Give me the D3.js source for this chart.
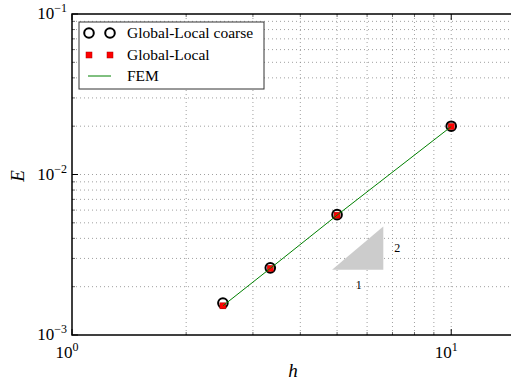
<!DOCTYPE html>
<html>
<head>
<meta charset="utf-8">
<script src="https://cdn.jsdelivr.net/npm/d3@7"></script>
<style>
  body { margin: 0; background: #fff; }
  text { font-family: "Liberation Serif", "DejaVu Serif", serif; }
</style>
</head>
<body>
<div id="chart"></div>
<script>
// data
const hValues = [2.5, 10 / 3, 5, 10];
const coarseE = [0.00158, 0.00262, 0.00562, 0.0200];
const fineE = [0.00152, 0.00260, 0.00558, 0.0199];
const femE = [0.00152, 0.00260, 0.00558, 0.0199];
const seriesNames = ["Global-Local coarse", "Global-Local", "FEM"];
const xTicks = [1, 10];
const yTicks = [0.001, 0.01, 0.1];
// slope triangle: start h, end h, base E, slope
const triangle = [4.85, 6.62, 0.00255, 2];

const width = 511, height = 384;
const padL = 72, padT = 14, padB = 335, padR = 518;

const svg = d3.select("#chart").append("svg")
	.attr("width", width)
	.attr("height", height);

const x = d3.scaleLog().domain([1, 15]).range([padL, padR]);
const y = d3.scaleLog().domain([0.001, 0.1]).range([padB, padT]);

// minor positions
let xMinor = [];
for (let d = 1; d <= 10; d *= 10)
	for (let k = 1; k < 10; k++) if (k * d <= 15) xMinor.push(k * d);
let yMinor = [];
for (let d = 0.001; d < 0.1; d *= 10)
	for (let k = 1; k < 10; k++) yMinor.push(k * d);

// grid
const grid = svg.append("g").attr("stroke", "#888").attr("stroke-width", 0.8)
	.attr("stroke-dasharray", "1,3");
grid.selectAll(".gx").data(xMinor.filter(v => v > 1))
	.join("line")
	.attr("x1", d => x(d)).attr("x2", d => x(d))
	.attr("y1", padT).attr("y2", padB);
grid.selectAll(".gy").data(yMinor.filter(v => v > 0.0011))
	.join("line")
	.attr("y1", d => y(d)).attr("y2", d => y(d))
	.attr("x1", padL).attr("x2", padR);

// slope triangle
const [tx0, tx1, ty0, ts] = triangle;
const ty1 = ty0 * Math.pow(tx1 / tx0, ts);
svg.append("path")
	.attr("d", d3.line()([[x(tx0), y(ty0)], [x(tx1), y(ty0)], [x(tx1), y(ty1)]]) + "Z")
	.attr("fill", "#cccccc");
svg.append("text").text("1")
	.attr("x", (x(tx0) + x(tx1)) / 2 + 1).attr("y", y(ty0) + 19)
	.attr("font-size", 12).attr("text-anchor", "middle").attr("fill", "#000");
svg.append("text").text(ts)
	.attr("x", x(tx1) + 14).attr("y", (y(ty0) + y(ty1)) / 2 + 4)
	.attr("font-size", 12).attr("text-anchor", "middle").attr("fill", "#000");

const lineGen = d3.line().x(d => x(d[0])).y(d => y(d[1]));

// coarse circles
svg.selectAll(".coarse").data(hValues.map((h, i) => [h, coarseE[i]]))
	.join("circle")
	.attr("cx", d => x(d[0])).attr("cy", d => y(d[1]))
	.attr("r", 4.8)
	.attr("fill", "none").attr("stroke", "#000").attr("stroke-width", 2);

// fine squares
svg.selectAll(".fine").data(hValues.map((h, i) => [h, fineE[i]]))
	.join("rect")
	.attr("x", d => x(d[0]) - 3).attr("y", d => y(d[1]) - 3)
	.attr("width", 6).attr("height", 6)
	.attr("fill", "#ff0000").attr("stroke", "#aa0000").attr("stroke-width", 0.5);

// FEM line on top
svg.append("path")
	.datum(hValues.map((h, i) => [h, femE[i]]))
	.attr("d", lineGen)
	.attr("fill", "none").attr("stroke", "#008000").attr("stroke-width", 1);

// frame
svg.append("rect")
	.attr("x", padL).attr("y", padT)
	.attr("width", padR - padL).attr("height", padB - padT)
	.attr("fill", "none").attr("stroke", "#000").attr("stroke-width", 1.5);

// inward ticks
const ticks = svg.append("g").attr("stroke", "#000");
xMinor.forEach(v => {
	const major = xTicks.includes(v);
	const len = major ? 6 : 3;
	ticks.append("line").attr("x1", x(v)).attr("x2", x(v))
		.attr("y1", padB).attr("y2", padB - len).attr("stroke-width", major ? 1 : 0.6);
	ticks.append("line").attr("x1", x(v)).attr("x2", x(v))
		.attr("y1", padT).attr("y2", padT + len).attr("stroke-width", major ? 1 : 0.6);
});
yMinor.concat([0.1]).forEach(v => {
	const major = yTicks.some(t => Math.abs(t - v) / t < 1e-6);
	const len = major ? 6 : 3;
	ticks.append("line").attr("y1", y(v)).attr("y2", y(v))
		.attr("x1", padL).attr("x2", padL + len).attr("stroke-width", major ? 1 : 0.6);
});

// tick labels
function powLabel(sel, exp) {
	sel.append("tspan").text("10");
	sel.append("tspan").text(exp).attr("dy", -7).attr("font-size", 12);
}
xTicks.forEach(v => {
	const t = svg.append("text").attr("x", x(v) - 5).attr("y", 358)
		.attr("font-size", 17).attr("text-anchor", "middle");
	powLabel(t, String(Math.round(Math.log10(v))));
});
yTicks.forEach(v => {
	const t = svg.append("text").attr("x", 67).attr("y", y(v) + 5)
		.attr("font-size", 17).attr("text-anchor", "end");
	powLabel(t, "\u2212" + Math.round(-Math.log10(v)));
});

// axis labels
svg.append("text").text("h").attr("x", 293).attr("y", 377)
	.attr("font-size", 19).attr("font-style", "italic").attr("text-anchor", "middle");
svg.append("text").text("E").attr("x", 0).attr("y", 0)
	.attr("transform", "translate(24,176) rotate(-90)")
	.attr("font-size", 19).attr("font-style", "italic").attr("text-anchor", "middle");

// legend
const lg = svg.append("g");
lg.append("rect").attr("x", 79).attr("y", 22).attr("width", 185).attr("height", 67)
	.attr("fill", "#fff").attr("stroke", "#333").attr("stroke-width", 1);
const rowsY = [33, 55, 76];
[89, 110].forEach(cx => {
	lg.append("circle").attr("cx", cx).attr("cy", rowsY[0]).attr("r", 4.8)
		.attr("fill", "none").attr("stroke", "#000").attr("stroke-width", 2);
	lg.append("rect").attr("x", cx - 3).attr("y", rowsY[1] - 3).attr("width", 6).attr("height", 6)
		.attr("fill", "#ff0000").attr("stroke", "#aa0000").attr("stroke-width", 0.5);
});
lg.append("line").attr("x1", 88).attr("x2", 111).attr("y1", rowsY[2]).attr("y2", rowsY[2])
	.attr("stroke", "#008000").attr("stroke-width", 1);
seriesNames.forEach((n, i) => {
	lg.append("text").text(n).attr("x", 127).attr("y", rowsY[i] + 5).attr("font-size", 15.5);
});
</script>
</body>
</html>
